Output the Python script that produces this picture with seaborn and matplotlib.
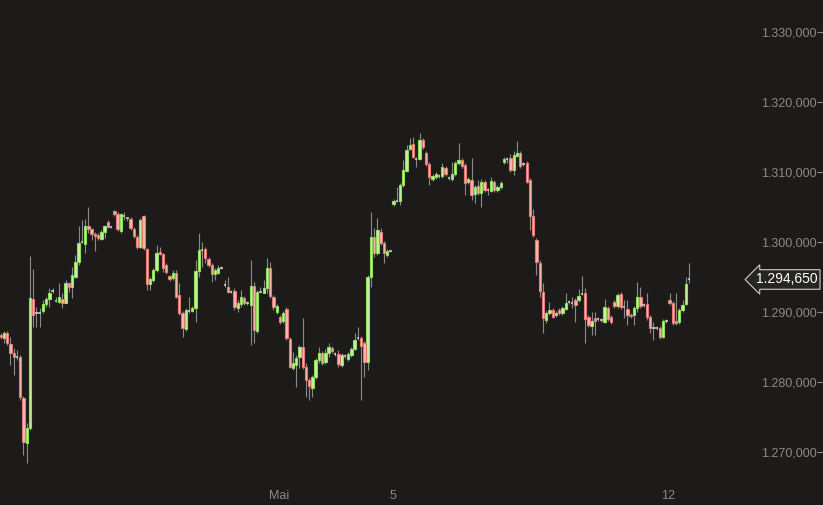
import matplotlib
matplotlib.use('Agg')

import numpy as np
import pandas as pd
import matplotlib.pyplot as plt
import matplotlib.transforms as mtransforms
import seaborn as sns

eroeffnung = [
    1.2867, 1.2863, 1.2870, 1.2855, 1.2842, 1.2836, 1.2836, 1.2777, 1.2713, 1.2735,
    1.2919, 1.2899, 1.2899, 1.2901, 1.2911, 1.2919, 1.2930, 1.2916, 1.2914, 1.2919,
    1.2913, 1.2941, 1.2936, 1.2950, 1.2971, 1.3000, 1.2997, 1.3023, 1.3019, 1.3011,
    1.3010, 1.3004, 1.3014, 1.3029, 1.3021, 1.3044, 1.3040, 1.3016, 1.3037, 1.3034,
    1.3033, 1.3019, 1.3007, 1.2993, 1.3037, 1.2990, 1.2940, 1.2946, 1.2960, 1.2986,
    1.2983, 1.2967, 1.2951, 1.2949, 1.2956, 1.2924, 1.2899, 1.2876, 1.2901, 1.2901,
    1.2906, 1.2959, 1.2989, 1.2990, 1.2976, 1.2967, 1.2954, 1.2956, 1.2963, 1.2939,
    1.2936, 1.2929, 1.2930, 1.2906, 1.2911, 1.2920, 1.2913, 1.2910, 1.2937, 1.2873,
    1.2929, 1.2927, 1.2934, 1.2963, 1.2921, 1.2900, 1.2893, 1.2887, 1.2904, 1.2862,
    1.2820, 1.2824, 1.2836, 1.2850, 1.2822, 1.2803, 1.2792, 1.2807, 1.2832, 1.2842,
    1.2829, 1.2842, 1.2849, 1.2840, 1.2840, 1.2824, 1.2837, 1.2833, 1.2839, 1.2847,
    1.2863, 1.2863, 1.2856, 1.2829, 1.2950, 1.3007, 1.2984, 1.3014, 1.2999, 1.2981,
    1.2987, 1.3054, 1.3059, 1.3059, 1.3081, 1.3101, 1.3133, 1.3140, 1.3118, 1.3118,
    1.3145, 1.3127, 1.3111, 1.3090, 1.3093, 1.3094, 1.3094, 1.3106, 1.3091, 1.3090,
    1.3097, 1.3113, 1.3117, 1.3110, 1.3086, 1.3088, 1.3068, 1.3080, 1.3070, 1.3086,
    1.3074, 1.3073, 1.3086, 1.3074, 1.3078, 1.3114, 1.3118, 1.3120, 1.3103, 1.3123,
    1.3127, 1.3111, 1.3113, 1.3088, 1.3037, 1.3003, 1.2970, 1.2929, 1.2889, 1.2899,
    1.2903, 1.2896, 1.2903, 1.2899, 1.2904, 1.2914, 1.2913, 1.2917, 1.2917, 1.2926,
    1.2927, 1.2893, 1.2880, 1.2891, 1.2890, 1.2889, 1.2886, 1.2906, 1.2893, 1.2914,
    1.2909, 1.2926, 1.2907, 1.2904, 1.2896, 1.2896, 1.2906, 1.2921, 1.2910, 1.2911,
    1.2893, 1.2877, 1.2877, 1.2877, 1.2864, 1.2887, 1.2917, 1.2913, 1.2887, 1.2886,
    1.2903, 1.2911, 1.29465,
]
hoch = [
    1.2870, 1.2873, 1.2873, 1.2864, 1.2849, 1.2846, 1.2839, 1.2780, 1.2742, 1.2980,
    1.2961, 1.2907, 1.2906, 1.2917, 1.2921, 1.2934, 1.2934, 1.2921, 1.2941, 1.2927,
    1.2946, 1.2943, 1.2964, 1.2981, 1.3023, 1.3031, 1.3033, 1.3050, 1.3020, 1.3014,
    1.3013, 1.3017, 1.3024, 1.3031, 1.3023, 1.3046, 1.3043, 1.3041, 1.3043, 1.3036,
    1.3036, 1.3021, 1.3010, 1.3034, 1.3039, 1.2991, 1.2950, 1.2963, 1.2996, 1.2993,
    1.2984, 1.2970, 1.2953, 1.2960, 1.2960, 1.2941, 1.2901, 1.2906, 1.2921, 1.2909,
    1.2974, 1.3013, 1.3000, 1.2993, 1.2979, 1.2970, 1.2963, 1.2967, 1.2966, 1.2946,
    1.2950, 1.2931, 1.2934, 1.2917, 1.2931, 1.2923, 1.2916, 1.2974, 1.2943, 1.2931,
    1.2936, 1.2946, 1.2977, 1.2971, 1.2924, 1.2911, 1.2896, 1.2901, 1.2907, 1.2864,
    1.2843, 1.2839, 1.2853, 1.2891, 1.2827, 1.2806, 1.2810, 1.2834, 1.2850, 1.2844,
    1.2847, 1.2856, 1.2852, 1.2843, 1.2846, 1.2842, 1.2840, 1.2843, 1.2850, 1.2870,
    1.2879, 1.2866, 1.2859, 1.2953, 1.3043, 1.3020, 1.3034, 1.3020, 1.3001, 1.2990,
    1.2989, 1.3061, 1.3078, 1.3084, 1.3117, 1.3138, 1.3148, 1.3150, 1.3121, 1.3155,
    1.3148, 1.3130, 1.3114, 1.3097, 1.3100, 1.3097, 1.3113, 1.3108, 1.3094, 1.3114,
    1.3116, 1.3141, 1.3120, 1.3113, 1.3093, 1.3120, 1.3081, 1.3088, 1.3090, 1.3088,
    1.3077, 1.3093, 1.3088, 1.3081, 1.3087, 1.3121, 1.3121, 1.3126, 1.3130, 1.3144,
    1.3130, 1.3114, 1.3116, 1.3091, 1.3047, 1.3006, 1.2974, 1.2941, 1.2901, 1.2914,
    1.2906, 1.2901, 1.2906, 1.2909, 1.2927, 1.2917, 1.2921, 1.2920, 1.2933, 1.2951,
    1.2934, 1.2896, 1.2900, 1.2900, 1.2893, 1.2891, 1.2919, 1.2909, 1.2896, 1.2917,
    1.2927, 1.2929, 1.2917, 1.2917, 1.2899, 1.2909, 1.2943, 1.2936, 1.2913, 1.2927,
    1.2896, 1.2886, 1.2880, 1.2880, 1.2890, 1.2890, 1.2927, 1.2916, 1.2927, 1.2906,
    1.2917, 1.2950, 1.2970,
]
tief = [
    1.2862, 1.2856, 1.2853, 1.2824, 1.2810, 1.2832, 1.2775, 1.2696, 1.2685, 1.2732,
    1.2879, 1.2879, 1.2879, 1.2899, 1.2907, 1.2907, 1.2927, 1.2914, 1.2913, 1.2906,
    1.2913, 1.2929, 1.2920, 1.2949, 1.2967, 1.2999, 1.2984, 1.3013, 1.3003, 1.2987,
    1.3003, 1.3003, 1.3006, 1.3020, 1.3020, 1.3037, 1.3016, 1.3013, 1.3031, 1.3030,
    1.3017, 1.3006, 1.2990, 1.2991, 1.2989, 1.2931, 1.2931, 1.2943, 1.2957, 1.2981,
    1.2957, 1.2954, 1.2944, 1.2946, 1.2920, 1.2896, 1.2864, 1.2873, 1.2899, 1.2900,
    1.2886, 1.2950, 1.2964, 1.2970, 1.2964, 1.2943, 1.2946, 1.2954, 1.2961, 1.2936,
    1.2927, 1.2927, 1.2903, 1.2900, 1.2907, 1.2910, 1.2910, 1.2853, 1.2856, 1.2870,
    1.2927, 1.2927, 1.2927, 1.2920, 1.2903, 1.2897, 1.2883, 1.2884, 1.2860, 1.2820,
    1.2817, 1.2793, 1.2820, 1.2819, 1.2779, 1.2775, 1.2779, 1.2805, 1.2827, 1.2824,
    1.2826, 1.2836, 1.2842, 1.2837, 1.2822, 1.2822, 1.2834, 1.2830, 1.2836, 1.2846,
    1.2860, 1.2775, 1.2807, 1.2817, 1.2936, 1.2979, 1.2981, 1.2996, 1.2970, 1.2979,
    1.2986, 1.3051, 1.3057, 1.3053, 1.3078, 1.3100, 1.3131, 1.3120, 1.3107, 1.3117,
    1.3133, 1.3108, 1.3081, 1.3087, 1.3090, 1.3091, 1.3091, 1.3094, 1.3088, 1.3087,
    1.3094, 1.3110, 1.3106, 1.3067, 1.3083, 1.3060, 1.3056, 1.3067, 1.3050, 1.3071,
    1.3067, 1.3071, 1.3071, 1.3071, 1.3076, 1.3111, 1.3113, 1.3100, 1.3096, 1.3121,
    1.3106, 1.3108, 1.3084, 1.3017, 1.3007, 1.2953, 1.2921, 1.2870, 1.2884, 1.2896,
    1.2891, 1.2893, 1.2896, 1.2896, 1.2903, 1.2911, 1.2906, 1.2886, 1.2914, 1.2924,
    1.2856, 1.2879, 1.2867, 1.2867, 1.2887, 1.2886, 1.2884, 1.2887, 1.2883, 1.2906,
    1.2906, 1.2904, 1.2891, 1.2881, 1.2891, 1.2881, 1.2900, 1.2906, 1.2907, 1.2889,
    1.2870, 1.2860, 1.2874, 1.2862, 1.2863, 1.2884, 1.2910, 1.2881, 1.2881, 1.2883,
    1.2900, 1.2910, 1.2941,
]
schluss = [
    1.2864, 1.2870, 1.2856, 1.2842, 1.2836, 1.2836, 1.2779, 1.2715, 1.2735, 1.2920,
    1.2896, 1.2899, 1.2899, 1.2911, 1.2919, 1.2927, 1.2930, 1.2916, 1.2921, 1.2913,
    1.2941, 1.2936, 1.2953, 1.2971, 1.2999, 1.3000, 1.3023, 1.3019, 1.3011, 1.3009,
    1.3006, 1.3014, 1.3023, 1.3021, 1.3021, 1.3040, 1.3019, 1.3040, 1.3037, 1.3034,
    1.3020, 1.3009, 1.2993, 1.3031, 1.2991, 1.2940, 1.2947, 1.2960, 1.2984, 1.2983,
    1.2963, 1.2957, 1.2947, 1.2956, 1.2921, 1.2899, 1.2877, 1.2903, 1.2901, 1.2906,
    1.2959, 1.2989, 1.2989, 1.2977, 1.2967, 1.2954, 1.2960, 1.2963, 1.2963, 1.2939,
    1.2929, 1.2929, 1.2907, 1.2913, 1.2921, 1.2913, 1.2913, 1.2937, 1.2874, 1.2929,
    1.2929, 1.2934, 1.2963, 1.2923, 1.2907, 1.2909, 1.2886, 1.2899, 1.2863, 1.2822,
    1.2827, 1.2834, 1.2850, 1.2822, 1.2803, 1.2795, 1.2807, 1.2832, 1.2842, 1.2827,
    1.2842, 1.2850, 1.2844, 1.2840, 1.2826, 1.2839, 1.2837, 1.2840, 1.2847, 1.2860,
    1.2863, 1.2852, 1.2829, 1.2950, 1.3007, 1.2984, 1.3017, 1.2999, 1.2984, 1.2987,
    1.2987, 1.3059, 1.3059, 1.3081, 1.3103, 1.3131, 1.3138, 1.3121, 1.3118, 1.3145,
    1.3136, 1.3111, 1.3093, 1.3094, 1.3097, 1.3094, 1.3107, 1.3097, 1.3091, 1.3097,
    1.3113, 1.3117, 1.3108, 1.3084, 1.3090, 1.3067, 1.3078, 1.3070, 1.3086, 1.3074,
    1.3074, 1.3087, 1.3074, 1.3078, 1.3084, 1.3118, 1.3118, 1.3103, 1.3124, 1.3127,
    1.3108, 1.3111, 1.3086, 1.3037, 1.3010, 1.2971, 1.2930, 1.2891, 1.2899, 1.2903,
    1.2893, 1.2899, 1.2899, 1.2906, 1.2913, 1.2914, 1.2913, 1.2910, 1.2923, 1.2926,
    1.2890, 1.2881, 1.2887, 1.2887, 1.2890, 1.2889, 1.2907, 1.2890, 1.2886, 1.2909,
    1.2924, 1.2907, 1.2907, 1.2896, 1.2894, 1.2906, 1.2921, 1.2909, 1.2910, 1.2893,
    1.2877, 1.2877, 1.2877, 1.2864, 1.2887, 1.2887, 1.2913, 1.2884, 1.2884, 1.2903,
    1.2910, 1.2940, 1.29465,
]

x_ticks = [85.8, 120.7, 205.6]
x_labels = ['Mai', '5', '12']
y_ticks = [1.27, 1.28, 1.29, 1.30, 1.31, 1.32, 1.33]
letzter_kurs = 1.29465

BG = '#1d1b1a'
TXT = '#8a8a8a'
GRUEN_F, GRUEN_R = '#c4f3a2', '#8fdc5a'
ROT_F, ROT_R = '#f6b9b2', '#e07a72'
DOCHT = '#8a8a8a'


def kurs_format(v):
    s = f'{v:.6f}'
    return s[:5] + ',' + s[5:]


sns.set_theme(style='dark')
plt.rcParams['font.family'] = ['Liberation Sans', 'DejaVu Sans']

df = pd.DataFrame({'open': eroeffnung, 'high': hoch, 'low': tief, 'close': schluss})
df['i'] = np.arange(len(df))
df['unten'] = df[['open', 'close']].min(axis=1)
df['hoehe'] = (df['close'] - df['open']).abs()
steigt = (df['close'] > df['open']) & (df['hoehe'] > 0)
faellt = (df['close'] < df['open']) & (df['hoehe'] > 0)
doji = df['hoehe'] == 0

fig = plt.figure(figsize=(8.23, 5.05), dpi=100, facecolor=BG)
ax = fig.add_axes([0, 0, 1, 1])
ax.set_facecolor(BG)

breite = 0.72
ax.vlines(df['i'], df['low'], df['high'], color=DOCHT, lw=0.8, zorder=1)
ax.bar(df.loc[steigt, 'i'], df.loc[steigt, 'hoehe'], bottom=df.loc[steigt, 'unten'],
       width=breite, color=GRUEN_F, edgecolor=GRUEN_R, linewidth=0.8, zorder=2)
ax.bar(df.loc[faellt, 'i'], df.loc[faellt, 'hoehe'], bottom=df.loc[faellt, 'unten'],
       width=breite, color=ROT_F, edgecolor=ROT_R, linewidth=0.8, zorder=2)
ax.hlines(df.loc[doji, 'open'], df.loc[doji, 'i'] - breite / 2, df.loc[doji, 'i'] + breite / 2,
          color='#e0d2c4', lw=1.1, zorder=2)

ax.set_xlim(-0.216, 253.25)
ax.set_ylim(1.26248, 1.33452)

for s in ax.spines.values():
    s.set_visible(False)
ax.grid(False)

# y-Achse rechts, Beschriftung innen
ax.yaxis.tick_right()
ax.set_yticks(y_ticks)
ax.set_yticklabels([kurs_format(v) for v in y_ticks])
ax.tick_params(axis='y', direction='in', length=4, width=0.8, color=TXT,
               labelcolor=TXT, labelsize=9, pad=-4.5)
for lbl in ax.get_yticklabels():
    lbl.set_horizontalalignment('right')

ax.set_xticks(x_ticks)
ax.set_xticklabels(x_labels)
ax.tick_params(axis='x', direction='in', length=3, width=0.8, color=TXT,
               labelcolor=TXT, labelsize=9, pad=-11)

# aktueller Kurs als Marke am rechten Rand
trans = mtransforms.blended_transform_factory(ax.transAxes, ax.transData)
ax.text(0.993, letzter_kurs, kurs_format(letzter_kurs), transform=trans,
        ha='right', va='center', color='white', fontsize=10, zorder=5,
        bbox=dict(boxstyle='larrow,pad=0.2', fc='#262524', ec='#cfcfcf', lw=0.8))

fig.savefig('out.png', dpi=100, facecolor=BG)
plt.close(fig)
